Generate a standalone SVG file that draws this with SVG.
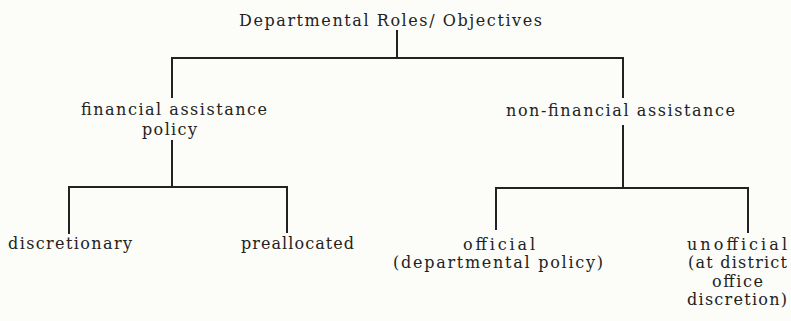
<svg xmlns="http://www.w3.org/2000/svg" width="791" height="321" viewBox="0 0 791 321">
<style>
.t{font-family:"DejaVu Serif","Liberation Serif",serif;font-size:16px;fill:#222;}
.c line{stroke:#222;stroke-width:2;stroke-linecap:butt;}
</style>
<rect width="791" height="321" fill="#fcfcf8"/>
<g class="c" id="connectors">
<line x1="397" y1="30" x2="397" y2="59"/>
<line x1="171" y1="58" x2="624" y2="58"/>
<line x1="172" y1="57" x2="172" y2="98"/>
<line x1="623" y1="57" x2="623" y2="98"/>
<line x1="172" y1="140" x2="172" y2="188"/>
<line x1="68" y1="187" x2="288" y2="187"/>
<line x1="69" y1="186" x2="69" y2="234"/>
<line x1="287" y1="186" x2="287" y2="233"/>
<line x1="623" y1="125" x2="623" y2="189"/>
<line x1="495" y1="188" x2="749" y2="188"/>
<line x1="496" y1="187" x2="496" y2="230"/>
<line x1="748" y1="187" x2="748" y2="233"/>
</g>
<g id="root"><text class="t" x="239" y="26" textLength="303" lengthAdjust="spacing">Departmental Roles/ Objectives</text></g>
<g id="financial">
<text class="t" x="81" y="115" textLength="186" lengthAdjust="spacing">financial assistance</text>
<text class="t" x="142" y="135" textLength="55" lengthAdjust="spacing">policy</text>
</g>
<g id="nonfinancial"><text class="t" x="506" y="116" textLength="229" lengthAdjust="spacing">non-financial assistance</text></g>
<g id="discretionary"><text class="t" x="8" y="249" textLength="124" lengthAdjust="spacing">discretionary</text></g>
<g id="preallocated"><text class="t" x="241" y="249" textLength="113" lengthAdjust="spacing">preallocated</text></g>
<g id="official">
<text class="t" x="463" y="250" textLength="72" lengthAdjust="spacing">official</text>
<text class="t" x="393" y="268" textLength="210" lengthAdjust="spacing">(departmental policy)</text>
</g>
<g id="unofficial">
<text class="t" x="687" y="250" textLength="100" lengthAdjust="spacing">unofficial</text>
<text class="t" x="688" y="268" textLength="99" lengthAdjust="spacing">(at district</text>
<text class="t" x="712" y="287" textLength="51" lengthAdjust="spacing">office</text>
<text class="t" x="687" y="305" textLength="100" lengthAdjust="spacing">discretion)</text>
</g>
</svg>
